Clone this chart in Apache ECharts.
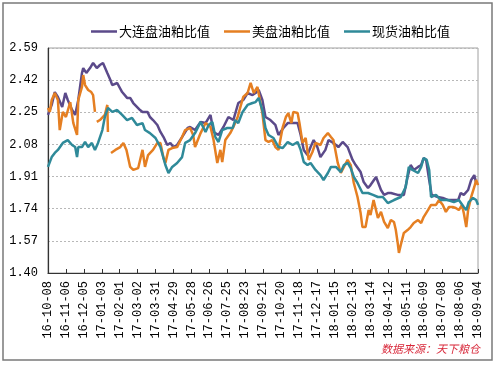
<!DOCTYPE html>
<html>
<head>
<meta charset="utf-8">
<script src="https://cdn.jsdelivr.net/npm/echarts@6/dist/echarts.min.js"></script>
<style>
html,body{margin:0;padding:0;background:#fff;}
#c{width:500px;height:365px;}
</style>
</head>
<body>
<div id="c"></div>
<script>
// Day offsets counted from 2016-10-08; tick labels every 29 days
const tickLabels = ["16-10-08","16-11-06","16-12-05","17-01-03","17-02-01","17-03-02","17-03-31","17-04-29","17-05-28","17-06-26","17-07-25","17-08-23","17-09-21","17-10-20","17-11-18","17-12-17","18-01-15","18-02-13","18-03-14","18-04-12","18-05-11","18-06-09","18-07-08","18-08-06","18-09-04"];
const seriesNames = ["大连盘油粕比值","美盘油粕比值","现货油粕比值"];
const yTicks = [1.40,1.57,1.74,1.91,2.08,2.25,2.42,2.59];

const dalian = [[0,2.236],[6,2.289],[11,2.357],[16,2.331],[23,2.278],[28,2.352],[32,2.315],[39,2.262],[44,2.236],[49,2.315],[55,2.458],[57,2.484],[62,2.458],[68,2.484],[73,2.511],[79,2.484],[84,2.500],[89,2.511],[96,2.458],[101,2.421],[104,2.394],[112,2.405],[120,2.357],[128,2.326],[133,2.326],[138,2.299],[141,2.289],[149,2.262],[153,2.252],[161,2.252],[165,2.225],[170,2.209],[177,2.183],[182,2.146],[187,2.119],[193,2.077],[198,2.088],[203,2.066],[209,2.077],[217,2.119],[226,2.167],[230,2.172],[238,2.156],[247,2.199],[255,2.193],[263,2.236],[268,2.146],[276,2.130],[284,2.172],[292,2.225],[300,2.209],[308,2.299],[316,2.315],[323,2.352],[331,2.341],[336,2.352],[341,2.368],[347,2.315],[352,2.225],[360,2.209],[368,2.183],[373,2.130],[381,2.167],[388,2.193],[396,2.193],[404,2.193],[409,2.130],[414,2.051],[420,2.024],[425,2.066],[430,2.103],[436,2.066],[441,2.013],[449,2.051],[454,2.103],[462,2.088],[470,2.066],[477,2.093],[485,2.066],[493,1.998],[498,1.971],[506,1.934],[511,1.881],[518,1.850],[522,1.865],[531,1.908],[534,1.908],[539,1.839],[544,1.813],[550,1.823],[555,1.823],[566,1.813],[576,1.813],[582,1.908],[587,1.971],[592,1.945],[599,1.961],[604,1.971],[608,2.008],[612,1.998],[617,1.892],[621,1.813],[631,1.802],[639,1.797],[647,1.786],[655,1.786],[664,1.786],[668,1.823],[673,1.813],[680,1.839],[685,1.892],[690,1.918],[693,1.876],[696,1.876]];

const usBoard = [[0,2.273],[3,2.252],[6,2.315],[11,2.352],[16,2.315],[19,2.156],[24,2.252],[29,2.225],[36,2.304],[41,2.193],[47,2.130],[49,2.315],[55,2.384],[57,2.447],[60,2.394],[65,2.368],[70,2.357],[73,2.341],[76,2.252],[77.5,null],[79,2.199],[84,2.209],[92,2.236],[96,2.289],[97,2.146],[99.5,null],[102,2.035],[109,2.051],[117,2.066],[122,2.088],[127,2.051],[133,1.961],[138,1.945],[146,1.955],[153,2.051],[157,1.961],[162,2.024],[170,2.051],[177,2.088],[182,2.088],[187,2.008],[190,1.982],[195,2.051],[201,2.061],[209,2.066],[217,2.119],[222,2.156],[230,2.167],[235,2.130],[238,2.066],[247,2.140],[255,2.193],[263,2.172],[268,2.103],[274,1.982],[279,2.051],[282,1.987],[287,2.103],[295,2.140],[300,2.172],[307,2.225],[311,2.273],[316,2.331],[323,2.352],[328,2.405],[331,2.410],[333,2.352],[339,2.384],[343,2.315],[347,2.246],[352,2.103],[357,2.093],[363,2.103],[368,2.066],[373,2.051],[380,2.172],[385,2.225],[389,2.246],[394,2.193],[397,2.252],[404,2.246],[407,2.193],[412,2.088],[417,2.114],[422,1.998],[428,2.040],[433,2.088],[441,2.077],[446,2.114],[453,2.140],[458,2.119],[462,2.103],[469,1.982],[474,1.929],[479,1.961],[485,1.998],[490,1.971],[495,1.876],[501,1.802],[506,1.717],[509,1.643],[514,1.643],[519,1.733],[522,1.707],[527,1.786],[534,1.691],[539,1.723],[544,1.670],[550,1.638],[555,1.680],[560,1.670],[563,1.627],[566,1.559],[568,1.506],[571,1.548],[576,1.612],[582,1.627],[587,1.643],[592,1.664],[599,1.680],[604,1.664],[608,1.696],[615,1.733],[620,1.760],[628,1.760],[633,1.786],[639,1.760],[644,1.723],[649,1.749],[655,1.749],[660,1.744],[665,1.733],[670,1.760],[673,1.717],[677,1.643],[680,1.733],[685,1.802],[690,1.855],[693,1.892],[696,1.865]];

const spot = [[0,1.961],[6,2.013],[11,2.035],[16,2.051],[24,2.088],[32,2.103],[39,2.077],[44,2.066],[47,2.013],[49,2.066],[55,2.066],[60,2.093],[65,2.066],[71,2.088],[76,2.051],[81,2.088],[88,2.156],[92,2.225],[97,2.273],[104,2.252],[112,2.262],[120,2.236],[128,2.209],[136,2.220],[144,2.183],[153,2.193],[157,2.156],[165,2.140],[174,2.114],[182,2.066],[190,1.971],[195,1.929],[201,1.961],[209,1.982],[217,2.013],[222,2.088],[230,2.103],[238,2.140],[247,2.199],[255,2.146],[260,2.183],[266,2.199],[271,2.119],[276,2.093],[282,2.156],[290,2.167],[299,2.167],[303,2.209],[308,2.193],[315,2.252],[323,2.289],[331,2.299],[336,2.304],[341,2.326],[347,2.262],[352,2.167],[357,2.130],[365,2.114],[373,2.066],[380,2.061],[388,2.093],[396,2.077],[404,2.093],[409,2.051],[414,1.987],[420,1.971],[425,1.982],[433,1.945],[441,1.918],[446,1.892],[453,1.929],[458,1.961],[466,1.961],[474,1.934],[479,1.971],[485,1.982],[490,1.955],[495,1.908],[501,1.876],[509,1.823],[518,1.823],[526,1.813],[534,1.802],[542,1.802],[550,1.770],[560,1.786],[571,1.802],[579,1.855],[584,1.961],[590,1.945],[599,1.929],[604,1.961],[608,2.008],[613,1.998],[617,1.945],[620,1.802],[628,1.813],[636,1.786],[647,1.786],[657,1.775],[665,1.786],[673,1.749],[677,1.733],[681,1.775],[688,1.797],[693,1.786],[696,1.760]];

const colors = ['#5b4a8a','#e57f22','#2f8a99'];
const yBase = yTicks[0];
const yStep = +(yTicks[1]-yTicks[0]).toFixed(2);
const shift = arr => arr.map(p => [p[0], p[1]==null ? null : +(p[1]-yBase).toFixed(4)]);
const xStep = 29;

const chart = echarts.init(document.getElementById('c'), null, {renderer:'canvas'});
const monoFont = '"Liberation Mono","DejaVu Sans Mono",monospace';
chart.setOption({
  backgroundColor:'#fff',
  animation:false,
  color: colors,
  legend:{
    left:86, top:20,
    icon:'rect', itemWidth:26, itemHeight:2.5, itemGap:14,
    textStyle:{fontFamily:'"Noto Sans CJK SC"', fontSize:13, color:'#000', padding:[0,0,0,-3]},
    data: seriesNames
  },
  grid:{left:48, right:22, top:48, bottom:92, show:true, borderColor:'#a0a0a0', borderWidth:1, backgroundColor:'#fff'},
  xAxis:{
    type:'value', min:0, max:xStep*(tickLabels.length-1), interval:xStep,
    axisLine:{lineStyle:{color:'#333', width:1.2}},
    axisTick:{show:true, inside:true, length:4, lineStyle:{color:'#333'}},
    splitLine:{show:false},
    axisLabel:{rotate:90, margin:8, fontFamily:monoFont, fontSize:12, color:'#000',
      formatter: v => tickLabels[Math.round(v/xStep)] || ''}
  },
  yAxis:{
    type:'value', min:0, max:+(yTicks[yTicks.length-1]-yBase).toFixed(2), interval:yStep,
    axisLine:{show:true, lineStyle:{color:'#333', width:1.2}},
    axisTick:{show:false},
    splitLine:{show:true, lineStyle:{color:'#b8b8b8', type:[2,2], width:1}},
    axisLabel:{margin:10, fontFamily:monoFont, fontSize:12, color:'#000',
      formatter: v => (v + yBase).toFixed(2)}
  },
  series:[
    {name:seriesNames[0], type:'line', data:shift(dalian), showSymbol:false, symbol:'none', lineStyle:{width:2.5}, connectNulls:false, z:2},
    {name:seriesNames[1], type:'line', data:shift(usBoard), showSymbol:false, symbol:'none', lineStyle:{width:2.5}, connectNulls:false, z:3},
    {name:seriesNames[2], type:'line', data:shift(spot), showSymbol:false, symbol:'none', lineStyle:{width:2.5}, connectNulls:false, z:4}
  ],
  graphic:[
    {type:'rect', shape:{x:3, y:3, width:489, height:357}, style:{fill:'none', stroke:'#7a7a7a', lineWidth:1.5}, z:-1, silent:true},
    {type:'text', right:20, top:343, style:{text:'数据来源：天下粮仓', fill:'#d8283a', font:'italic 11px "Noto Sans CJK SC"'}}
  ]
});
</script>
</body>
</html>
